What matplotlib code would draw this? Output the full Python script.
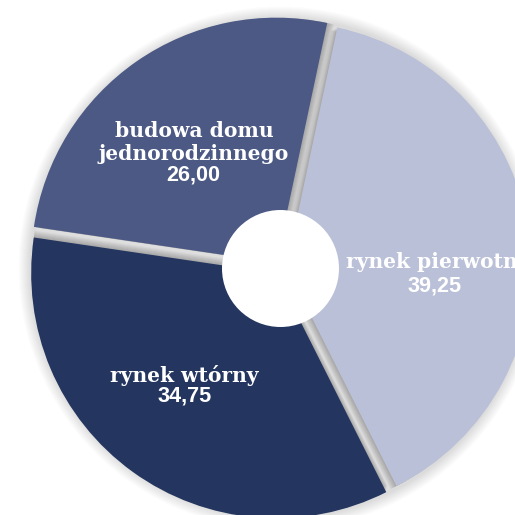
import matplotlib
matplotlib.use("Agg")
import matplotlib.pyplot as plt
from matplotlib.patches import Wedge, Circle
import numpy as np

# Struktura wydatków mieszkaniowych (%)
categories = ["rynek pierwotny", "rynek wtórny", "budowa domu\njednorodzinnego"]
values = [39.25, 34.75, 26.00]
value_labels = ["39,25", "34,75", "26,00"]
colors = ["#BAC0D7", "#243660", "#4B5984"]

W = H = 515
fig = plt.figure(figsize=(W / 100, H / 100), dpi=100)
ax = fig.add_axes([0, 0, 1, 1])

cx, cy = 280.0, H - 268.0
R = 245.0
gap = 6.5

wedges, _ = ax.pie(values, colors=colors, startangle=78, counterclock=False,
                   radius=R, center=(cx, cy), explode=[gap] * len(values),
                   wedgeprops=dict(linewidth=0, zorder=5))

# soft halo around the outer rim
for k in range(12):
    ax.add_patch(Circle((cx, cy), R + gap + 10 - k, facecolor="black",
                        alpha=0.011, linewidth=0, zorder=1))
# light grey bed visible in the gaps between slices
ax.add_patch(Circle((cx, cy), R + 2, facecolor="#DEDEDE", linewidth=0, zorder=2))

# each slice casts a shadow clockwise into the neighbouring gap
for w in wedges:
    ang = np.deg2rad(w.theta1 - 90)
    for k in range(1, 8):
        dx, dy = k * np.cos(ang), k * np.sin(ang)
        ax.add_patch(Wedge((w.center[0] + dx, w.center[1] + dy), w.r,
                           w.theta1, w.theta2, facecolor="black",
                           alpha=0.035, linewidth=0, zorder=3))

# centre hole
ax.add_patch(Circle((280.5, H - 268.5), 58.5, facecolor="white",
                    linewidth=0, zorder=8))

serif = dict(family="DejaVu Serif", weight="bold", color="white", zorder=10)
sans = dict(family="Liberation Sans", weight="bold", color="white", zorder=10)
fs_word, fs_num = 14.6, 15.6

ax.text(194, H - 137.3, "budowa domu", ha="center", va="baseline", fontsize=fs_word, **serif)
ax.text(194, H - 159.5, "jednorodzinnego", ha="center", va="baseline", fontsize=fs_word, **serif)
ax.text(193, H - 180.7, value_labels[2], ha="center", va="baseline", fontsize=fs_num, **sans)

ax.text(346.0, H - 268.3, categories[0], ha="left", va="baseline", fontsize=fs_word, **serif)
ax.text(434.7, H - 291.7, value_labels[0], ha="center", va="baseline", fontsize=fs_num, **sans)

ax.text(184.5, H - 381.7, categories[1], ha="center", va="baseline", fontsize=fs_word, **serif)
ax.text(185, H - 401.7, value_labels[1], ha="center", va="baseline", fontsize=fs_num, **sans)

ax.set_xlim(0, W)
ax.set_ylim(0, H)
ax.set_aspect("equal")
ax.axis("off")
fig.savefig("out.png", dpi=100, facecolor="white")
